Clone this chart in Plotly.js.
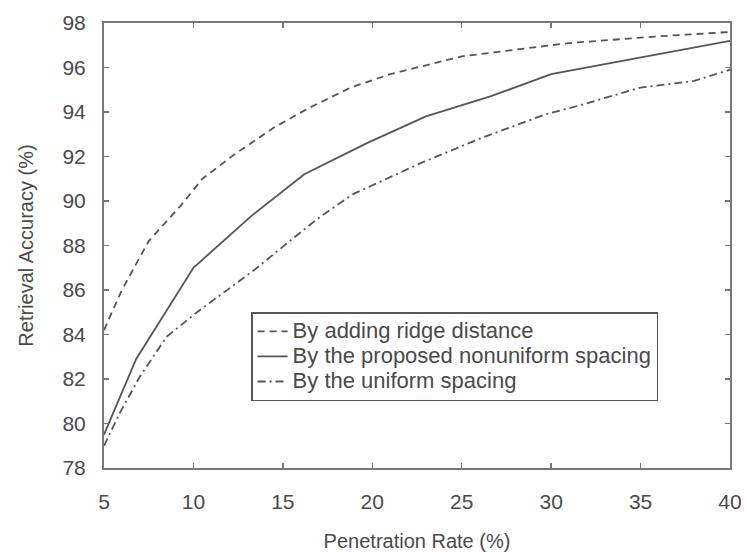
<!DOCTYPE html>
<html>
<head>
<meta charset="utf-8">
<script src="https://cdn.plot.ly/plotly-3.0.1.min.js"></script>
<style>html,body{margin:0;padding:0;background:#fff;}#chart{width:746px;height:552px;}</style>
</head>
<body>
<div id="chart"></div>
<script>
// Series names
const seriesNames = [
  "By adding ridge distance",
  "By the proposed nonuniform spacing",
  "By the uniform spacing"
];

// Dashed series: by adding ridge distance
const ridgeX = [5, 6, 7.5, 9.3, 10.5, 12.3, 14.5, 16.5, 18.8, 21, 23, 25, 28, 31, 36, 40];
const ridgeY = [84.2, 86.0, 88.2, 89.8, 91.0, 92.1, 93.3, 94.2, 95.1, 95.7, 96.1, 96.5, 96.8, 97.1, 97.4, 97.6];

// Solid series: proposed nonuniform spacing
const nonuniformX = [5, 6.8, 10, 13.2, 16.2, 19.7, 23, 26.6, 30, 34, 38, 40];
const nonuniformY = [79.5, 82.9, 87.0, 89.3, 91.2, 92.6, 93.8, 94.7, 95.7, 96.3, 96.9, 97.2];

// Dash-dot series: uniform spacing
const uniformX = [5, 5.9, 7, 8.5, 10.2, 11.9, 13.4, 16, 17.1, 18.9, 22.7, 26, 29.7, 31.6, 35, 38, 40];
const uniformY = [79.0, 80.5, 82.1, 83.9, 85.0, 86.0, 86.9, 88.6, 89.3, 90.3, 91.7, 92.8, 93.9, 94.3, 95.1, 95.4, 95.9];

// Axis ticks
const xTicks = [5, 10, 15, 20, 25, 30, 35, 40];
const yTicks = [78, 80, 82, 84, 86, 88, 90, 92, 94, 96, 98];

const lineColor = "#555555";
const textColor = "#4a4a4a";
const fontFam = "Liberation Sans, Arial, sans-serif";

function legendLabel(s) {
  return '<span style="font-size:22px">' + s + '</span>';
}

const traces = [
  {x: ridgeX, y: ridgeY, name: legendLabel(seriesNames[0]), mode: "lines",
   line: {color: lineColor, width: 1.8, dash: "7px,5px"}},
  {x: nonuniformX, y: nonuniformY, name: legendLabel(seriesNames[1]), mode: "lines",
   line: {color: lineColor, width: 1.8, dash: "solid"}},
  {x: uniformX, y: uniformY, name: legendLabel(seriesNames[2]), mode: "lines",
   line: {color: lineColor, width: 1.8, dash: "8px,4px,2px,4px"}}
];

const axisCommon = {
  showgrid: false, zeroline: false,
  showline: true, linecolor: "#777777", linewidth: 2, mirror: "ticks",
  ticks: "inside", ticklen: 5, tickcolor: "#777777", tickwidth: 1.5,
  tickfont: {family: fontFam, size: 21, color: textColor}
};

const layout = {
  width: 746, height: 552,
  margin: {l: 104, r: 16, t: 23, b: 84},
  paper_bgcolor: "#ffffff", plot_bgcolor: "#ffffff",
  font: {family: fontFam, color: textColor},
  xaxis: Object.assign({}, axisCommon, {
    range: [5, 40], tickvals: xTicks, ticktext: xTicks.map(String),
    ticklabelstandoff: 14,
    title: {text: "Penetration Rate (%)", font: {family: fontFam, size: 20, color: textColor}, standoff: 22}
  }),
  yaxis: Object.assign({}, axisCommon, {
    range: [78, 98], tickvals: yTicks, ticktext: yTicks.map(String),
    ticklabelstandoff: 12,
    title: {text: "Retrieval Accuracy (%)", font: {family: fontFam, size: 20, color: textColor}, standoff: 23}
  }),
  legend: {
    x: 0.235, y: 0.35, xanchor: "left", yanchor: "top",
    bgcolor: "#ffffff", bordercolor: "#555555", borderwidth: 1.5,
    font: {family: fontFam, size: 17, color: textColor},
    tracegroupgap: 0, itemwidth: 30
  },
  showlegend: true
};

Plotly.newPlot("chart", traces, layout, {displayModeBar: false, staticPlot: true});
</script>
</body>
</html>
